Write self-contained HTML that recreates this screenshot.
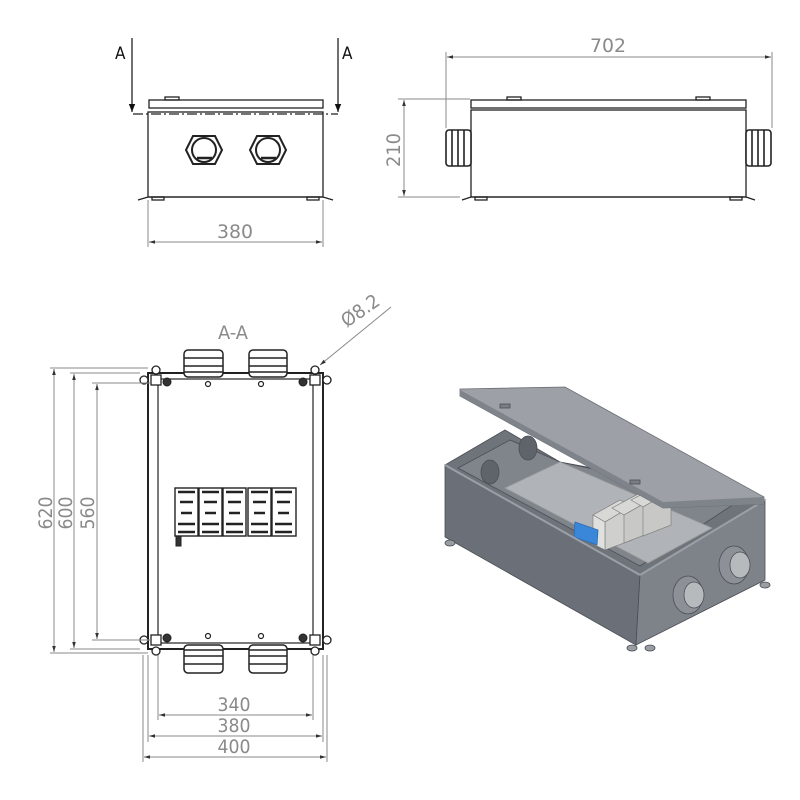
<!DOCTYPE html>
<html><head><meta charset="utf-8"><style>
html,body{margin:0;padding:0;background:#fff;}
svg{display:block;}
.d{font-family:"DejaVu Sans Condensed","Liberation Sans",sans-serif;fill:#8a8a8a;font-size:19px;font-weight:300;}
</style></head><body>
<svg width="800" height="800" viewBox="0 0 800 800" xmlns="http://www.w3.org/2000/svg">
<defs>
<marker id="ar" viewBox="0 0 10 10" refX="10" refY="5" markerWidth="9" markerHeight="6" orient="auto-start-reverse" markerUnits="userSpaceOnUse"><path d="M0,2 L10,5 L0,8 z" fill="#333"/></marker>
<marker id="ab" viewBox="0 0 10 10" refX="10" refY="5" markerWidth="8" markerHeight="10" orient="auto-start-reverse" markerUnits="userSpaceOnUse"><path d="M0,1 L10,5 L0,9 z" fill="#111"/></marker>
</defs>

<!-- ===== Top-left front view ===== -->
<g stroke="#222" fill="none" stroke-width="1.3">
<rect x="149" y="100" width="174" height="8" fill="#fff"/>
<rect x="165" y="97" width="14" height="3"/>
<rect x="148" y="112" width="175" height="85" fill="#fff"/>
<path d="M138,200 L148,197 L323,197 L333,200"/>
<rect x="152" y="197" width="12" height="3"/><rect x="307" y="197" width="12" height="3"/>
<g stroke-width="2">
<polygon points="186,150 193,136 215,136 222,150 215,164 193,164"/>
<circle cx="204" cy="150" r="12"/>
<polygon points="250,150 257,136 279,136 286,150 279,164 257,164"/>
<circle cx="268" cy="150" r="12"/>
</g>
<path d="M197,158 L212,158 M261,158 L276,158" stroke-width="2.5"/>
</g>
<path d="M133,114 L338,114" stroke="#222" stroke-width="1.2" stroke-dasharray="10,3,2,3"/>
<line x1="132" y1="38" x2="132" y2="112" stroke="#111" stroke-width="1.2" marker-end="url(#ab)"/>
<line x1="338" y1="38" x2="338" y2="112" stroke="#111" stroke-width="1.2" marker-end="url(#ab)"/>
<text x="115" y="59" font-family="DejaVu Sans Condensed,sans-serif" font-size="17" fill="#111">A</text>
<text x="342" y="59" font-family="DejaVu Sans Condensed,sans-serif" font-size="17" fill="#111">A</text>
<g stroke="#888" stroke-width="1">
<line x1="148" y1="200" x2="148" y2="247"/><line x1="323" y1="200" x2="323" y2="247"/>
<line x1="149" y1="242" x2="322" y2="242" marker-start="url(#ar)" marker-end="url(#ar)"/>
</g>
<text class="d" x="235" y="238" text-anchor="middle" textLength="36" lengthAdjust="spacingAndGlyphs">380</text>

<!-- ===== Top-right side view ===== -->
<g stroke="#222" fill="none" stroke-width="1.3">
<rect x="471" y="100" width="275" height="8" fill="#fff"/>
<rect x="507" y="97" width="14" height="3"/><rect x="696" y="97" width="14" height="3"/>
<rect x="471" y="110" width="275" height="87" fill="#fff"/>
<path d="M462,200 L471,197 L746,197 L755,200"/>
<rect x="475" y="197" width="12" height="3"/><rect x="730" y="197" width="12" height="3"/>
<g stroke-width="1.6">
<rect x="446" y="130" width="25" height="36" rx="3" fill="#fff"/>
<line x1="452" y1="130" x2="452" y2="166"/><line x1="458" y1="130" x2="458" y2="166"/><line x1="464" y1="130" x2="464" y2="166"/>
<rect x="746" y="130" width="25" height="36" rx="3" fill="#fff"/>
<line x1="752" y1="130" x2="752" y2="166"/><line x1="758" y1="130" x2="758" y2="166"/><line x1="764" y1="130" x2="764" y2="166"/>
</g>
</g>
<g stroke="#888" stroke-width="1">
<line x1="446" y1="52" x2="446" y2="128"/><line x1="772" y1="52" x2="772" y2="128"/>
<line x1="447" y1="57" x2="771" y2="57" marker-start="url(#ar)" marker-end="url(#ar)"/>
<line x1="398" y1="99" x2="470" y2="99"/><line x1="398" y1="197" x2="460" y2="197"/>
<line x1="404" y1="100" x2="404" y2="196" marker-start="url(#ar)" marker-end="url(#ar)"/>
</g>
<text class="d" x="608" y="52" text-anchor="middle" textLength="36" lengthAdjust="spacingAndGlyphs">702</text>
<text class="d" transform="translate(400,150) rotate(-90)" text-anchor="middle" textLength="34" lengthAdjust="spacingAndGlyphs">210</text>

<!-- ===== Section view A-A ===== -->
<text class="d" x="233" y="339" text-anchor="middle" textLength="30" lengthAdjust="spacingAndGlyphs" font-size="16">A-A</text>
<g stroke="#222" fill="none">
<rect x="148" y="373" width="175" height="276" stroke-width="2" fill="#fff"/>
<rect x="158" y="379" width="155" height="264" stroke-width="1.2"/>
<g stroke-width="1.5" fill="#fff">
<rect x="184" y="350" width="39" height="27" rx="4"/><line x1="184" y1="358" x2="223" y2="358"/><line x1="184" y1="366" x2="223" y2="366"/><line x1="184" y1="372" x2="223" y2="372"/>
<rect x="249" y="350" width="38" height="27" rx="4"/><line x1="249" y1="358" x2="287" y2="358"/><line x1="249" y1="366" x2="287" y2="366"/><line x1="249" y1="372" x2="287" y2="372"/>
<rect x="184" y="645" width="39" height="28" rx="4"/><line x1="184" y1="650" x2="223" y2="650"/><line x1="184" y1="656" x2="223" y2="656"/><line x1="184" y1="664" x2="223" y2="664"/>
<rect x="249" y="645" width="38" height="28" rx="4"/><line x1="249" y1="650" x2="287" y2="650"/><line x1="249" y1="656" x2="287" y2="656"/><line x1="249" y1="664" x2="287" y2="664"/>
</g>
<g stroke-width="1.3" fill="#fff">
<circle cx="156" cy="370" r="4"/><circle cx="315" cy="370" r="4"/>
<circle cx="144" cy="380" r="4"/><circle cx="327" cy="380" r="4"/>
<circle cx="144" cy="640" r="4"/><circle cx="327" cy="640" r="4"/>
<circle cx="156" cy="651" r="4"/><circle cx="315" cy="651" r="4"/>
<rect x="151" y="375" width="10" height="10"/><rect x="310" y="375" width="10" height="10"/>
<rect x="151" y="635" width="10" height="10"/><rect x="310" y="635" width="10" height="10"/>
</g>
<g fill="#333"><circle cx="167" cy="382" r="4"/><circle cx="303" cy="382" r="4"/><circle cx="167" cy="638" r="4"/><circle cx="303" cy="638" r="4"/></g>
<g stroke-width="1.2"><circle cx="208" cy="384" r="2.5"/><circle cx="261" cy="384" r="2.5"/><circle cx="208" cy="636" r="2.5"/><circle cx="261" cy="636" r="2.5"/></g>
<g stroke-width="1.4">
<rect x="175" y="488" width="23" height="48" fill="#fff"/>
<rect x="199" y="488" width="23" height="48" fill="#fff"/>
<rect x="223" y="488" width="23" height="48" fill="#fff"/>
<rect x="248" y="488" width="23" height="48" fill="#fff"/>
<rect x="272" y="488" width="24" height="48" fill="#fff"/>
</g>
<g stroke-width="2.5">
<path d="M178,492 h17 M202,492 h17 M226,492 h17 M251,492 h17 M275,492 h17"/>
<path d="M180,502 h13 M204,502 h13 M228,502 h13 M253,502 h13 M277,502 h13"/>
<path d="M181,513 h11 M205,513 h11 M229,513 h11 M254,513 h11 M278,513 h11"/>
<path d="M178,524 h17 M202,524 h17 M226,524 h17 M251,524 h17 M275,524 h17"/>
<path d="M178,532 h17 M202,532 h17 M226,532 h17 M251,532 h17 M275,532 h17"/>
</g>
<rect x="176" y="536" width="5" height="10" fill="#333" stroke-width="1"/>
</g>
<g stroke="#888" stroke-width="1">
<line x1="50" y1="368" x2="148" y2="368"/><line x1="50" y1="653" x2="148" y2="653"/>
<line x1="70" y1="373" x2="140" y2="373"/><line x1="70" y1="649" x2="140" y2="649"/>
<line x1="92" y1="383" x2="150" y2="383"/><line x1="92" y1="640" x2="150" y2="640"/>
<line x1="54" y1="369" x2="54" y2="652" marker-start="url(#ar)" marker-end="url(#ar)"/>
<line x1="74" y1="374" x2="74" y2="648" marker-start="url(#ar)" marker-end="url(#ar)"/>
<line x1="97" y1="384" x2="97" y2="639" marker-start="url(#ar)" marker-end="url(#ar)"/>
<line x1="158" y1="655" x2="158" y2="720"/><line x1="313" y1="655" x2="313" y2="720"/>
<line x1="148" y1="655" x2="148" y2="742"/><line x1="323" y1="655" x2="323" y2="742"/>
<line x1="143" y1="655" x2="143" y2="762"/><line x1="327" y1="655" x2="327" y2="762"/>
<line x1="159" y1="715" x2="312" y2="715" marker-start="url(#ar)" marker-end="url(#ar)"/>
<line x1="149" y1="736" x2="322" y2="736" marker-start="url(#ar)" marker-end="url(#ar)"/>
<line x1="144" y1="757" x2="326" y2="757" marker-start="url(#ar)" marker-end="url(#ar)"/>
<line x1="391" y1="307" x2="320" y2="365" marker-end="url(#ar)"/>
</g>
<text class="d" transform="translate(52,513) rotate(-90)" text-anchor="middle" textLength="33" lengthAdjust="spacingAndGlyphs">620</text>
<text class="d" transform="translate(72,513) rotate(-90)" text-anchor="middle" textLength="33" lengthAdjust="spacingAndGlyphs">600</text>
<text class="d" transform="translate(94,513) rotate(-90)" text-anchor="middle" textLength="33" lengthAdjust="spacingAndGlyphs">560</text>
<text class="d" x="234" y="711" text-anchor="middle" textLength="33" lengthAdjust="spacingAndGlyphs">340</text>
<text class="d" x="234" y="732" text-anchor="middle" textLength="33" lengthAdjust="spacingAndGlyphs">380</text>
<text class="d" x="234" y="753" text-anchor="middle" textLength="33" lengthAdjust="spacingAndGlyphs">400</text>
<text class="d" transform="translate(364,316) rotate(-35)" text-anchor="middle" textLength="42" lengthAdjust="spacingAndGlyphs">Ø8.2</text>

<!-- ===== 3D view ===== -->
<g stroke="#4a4e55" stroke-width="0.8">
<polygon points="445,465 505,430 560,462 765,500 640,575" fill="#6f747b"/>
<polygon points="458,468 510,440 560,462 740,500 640,566" fill="#80858c"/>
<polygon points="505,488 560,462 712,528 648,563" fill="#b0b3b7" stroke="#999"/>
<g stroke="#777" stroke-width="0.6">
<polygon points="593,515 620,500 632,506 605,522" fill="#d8d8d6"/>
<polygon points="605,522 632,506 632,540 605,550" fill="#cfcfcd"/>
<polygon points="612,508 640,493 652,499 624,515" fill="#d8d8d6"/>
<polygon points="624,515 652,499 652,532 624,543" fill="#c8c8c6"/>
<polygon points="631,500 659,485 671,491 643,507" fill="#d8d8d6"/>
<polygon points="643,507 671,491 671,525 643,536" fill="#c8c8c6"/>
<polygon points="593,515 605,522 605,550 593,544" fill="#e0e0de"/>
</g>
<polygon points="575,522 598,530 597,545 574,537" fill="#3a86d8" stroke="#2a6ab0"/>
<ellipse cx="490" cy="472" rx="9" ry="12" fill="#5f636a"/>
<ellipse cx="528" cy="448" rx="9" ry="12" fill="#5f636a"/>
<polygon points="445,465 640,575 636,645 445,537" fill="#6b7078"/>
<polygon points="640,575 765,500 765,580 636,645" fill="#7e838a"/>
<line x1="445" y1="465" x2="640" y2="575" stroke="#9ba0a6" stroke-width="2"/>
<line x1="640" y1="575" x2="765" y2="500" stroke="#9ba0a6" stroke-width="2"/>
<ellipse cx="688" cy="595" rx="15" ry="19" fill="#8d9197"/><ellipse cx="694" cy="595" rx="10" ry="13" fill="#b7babd"/>
<ellipse cx="734" cy="565" rx="15" ry="19" fill="#8d9197"/><ellipse cx="740" cy="565" rx="10" ry="13" fill="#b7babd"/>
<ellipse cx="450" cy="543" rx="5" ry="3" fill="#9a9ea3"/>
<ellipse cx="632" cy="648" rx="5" ry="3" fill="#9a9ea3"/><ellipse cx="650" cy="648" rx="5" ry="3" fill="#9a9ea3"/>
<ellipse cx="765" cy="585" rx="5" ry="3" fill="#9a9ea3"/>
<polygon points="460,389 565,387 764,497 764,504 663,508 460,396" fill="#9da1a7" stroke="#6a6e74"/>
<polygon points="460,396 663,508 764,504 764,497 663,502 460,390" fill="#7f838a" stroke="none"/>
<rect x="500" y="404" width="10" height="4" fill="#7a7e84"/>
<rect x="630" y="480" width="10" height="4" fill="#7a7e84"/>
</g>
</svg>
</body></html>
